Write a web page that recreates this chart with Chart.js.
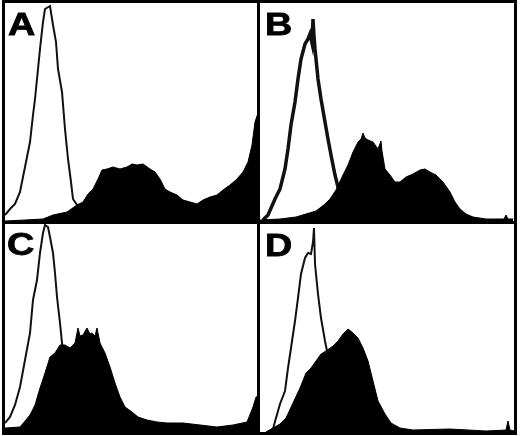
<!DOCTYPE html>
<html>
<head>
<meta charset="utf-8">
<script src="https://cdn.jsdelivr.net/npm/chart.js@4.4.0/dist/chart.umd.min.js"></script>
<style>
  html, body { margin: 0; padding: 0; background: #fff; }
  #wrap { position: relative; width: 520px; height: 436px; overflow: hidden; }
  .panel { position: absolute; box-sizing: border-box; border: 3px solid #000; background: #fff; }
  .panel canvas { display: block; }
  .lbl { position: absolute; font-family: "Liberation Sans", Arial, sans-serif; font-weight: bold;
         font-size: 32px; line-height: 1; color: #000; -webkit-text-stroke: 0.8px #000;
         transform: scaleX(1.18); transform-origin: left top; }
</style>
</head>
<body>
<div id="wrap">
  <div class="panel" style="left:2px;top:0px;width:259px;height:224px"><canvas id="ca"></canvas></div>
  <div class="panel" style="left:257px;top:0px;width:260px;height:224px"><canvas id="cb"></canvas></div>
  <div class="panel" style="left:2px;top:221px;width:259px;height:214px"><canvas id="cc"></canvas></div>
  <div class="panel" style="left:257px;top:221px;width:260px;height:214px"><canvas id="cd"></canvas></div>
  <div class="lbl" style="left:8px;top:8px">A</div>
  <div class="lbl" style="left:265px;top:8px">B</div>
  <div class="lbl" style="left:7px;top:228px">C</div>
  <div class="lbl" style="left:265px;top:229px">D</div>
</div>
<script>
// channels (x) and counts (y), one pair per trace

// A
const aCtrlX = [0, 5, 10, 15, 20, 25, 28, 30, 33, 35, 38, 40, 45, 48, 51, 53, 57, 60, 63, 66, 68, 72, 75, 78];
const aCtrlY = [6, 12, 17, 29, 54, 79, 106, 122, 152, 172, 199, 212, 215, 196, 179, 152, 129, 92, 62, 39, 22, 16, 6, 2];
const aTestX = [0, 20, 38, 48, 62, 72, 78, 83, 88, 93, 97, 102, 108, 115, 122, 127, 132, 138, 145, 150, 155, 160, 165, 172, 178, 185, 192, 198, 205, 212, 218, 225, 232, 238, 243, 247, 250, 253];
const aTestY = [0, 1, 2, 6, 9, 16, 19, 27, 32, 42, 51, 52, 54, 52, 54, 57, 56, 57, 52, 49, 42, 32, 29, 26, 21, 19, 17, 21, 24, 26, 31, 36, 42, 49, 59, 76, 99, 108];

// B
const bCtrlX = [3, 8, 15, 20, 25, 28, 31, 35, 38, 41, 45, 48, 50, 52, 53, 54, 55, 58, 61, 65, 68, 71, 75, 78, 82];
const bCtrlY = [1, 6, 22, 32, 52, 72, 96, 119, 142, 162, 177, 182, 187, 178, 202, 185, 172, 142, 122, 99, 82, 66, 46, 34, 20];
const bTestX = [0, 20, 36, 46, 56, 65, 70, 76, 83, 88, 93, 98, 101, 103, 105, 108, 113, 118, 121, 122, 125, 130, 135, 140, 146, 153, 160, 165, 170, 176, 183, 190, 195, 200, 206, 213, 226, 244, 246, 248, 253];
const bTestY = [1, 2, 4, 7, 10, 17, 22, 31, 46, 56, 69, 79, 82, 88, 83, 81, 79, 72, 80, 70, 52, 46, 39, 39, 44, 47, 51, 52, 49, 46, 39, 29, 19, 12, 7, 4, 2, 2, 6, 2, 2];

// C
const cCtrlX = [0, 5, 10, 15, 20, 25, 28, 32, 35, 38, 40, 43, 45, 48, 50, 52, 55, 57, 60];
const cCtrlY = [9, 15, 27, 45, 72, 99, 132, 152, 179, 199, 207, 205, 195, 179, 159, 135, 109, 89, 70];
const cTestX = [0, 15, 25, 30, 35, 40, 45, 50, 55, 60, 65, 70, 73, 75, 78, 82, 85, 87, 90, 92, 95, 100, 105, 110, 115, 120, 127, 133, 142, 152, 162, 178, 195, 212, 228, 242, 248, 251, 254];
const cTestY = [4, 5, 17, 27, 44, 59, 75, 79, 87, 87, 84, 89, 104, 96, 97, 104, 98, 99, 96, 104, 89, 79, 65, 49, 35, 25, 20, 15, 12, 10, 9, 9, 7, 5, 7, 10, 25, 35, 36];

// D
const dCtrlX = [13, 16, 20, 25, 28, 31, 35, 38, 41, 45, 48, 51, 53, 54, 55, 58, 61, 65, 67, 70];
const dCtrlY = [3, 14, 28, 41, 64, 84, 111, 134, 158, 174, 179, 178, 190, 204, 168, 138, 114, 91, 81, 70];
const dTestX = [6, 13, 20, 26, 33, 40, 46, 51, 56, 61, 66, 73, 78, 83, 88, 93, 98, 103, 108, 113, 118, 125, 131, 140, 153, 190, 226, 246, 248, 250, 254];
const dTestY = [0, 4, 8, 14, 29, 44, 59, 64, 71, 78, 81, 86, 91, 98, 103, 99, 94, 84, 71, 51, 31, 18, 9, 4, 2, 3, 1, 2, 11, 2, 1];

function pts(xs, ys) {
  return xs.map((x, i) => ({ x: x, y: ys[i] }));
}

function makePanel(canvasId, w, h, ctrlX, ctrlY, testX, testY, ctrlWidth) {
  const cv = document.getElementById(canvasId);
  cv.width = w;
  cv.height = h;
  cv.style.width = w + "px";
  cv.style.height = h + "px";
  return new Chart(cv.getContext("2d"), {
    type: "line",
    data: {
      datasets: [
        {
          data: pts(testX, testY),
          borderColor: "#000",
          backgroundColor: "#000",
          borderWidth: 1,
          fill: "origin",
          pointRadius: 0,
          tension: 0,
          order: 0
        },
        {
          data: pts(ctrlX, ctrlY),
          borderColor: "#111",
          borderWidth: ctrlWidth,
          fill: false,
          pointRadius: 0,
          tension: 0,
          order: 1
        }
      ]
    },
    options: {
      responsive: false,
      animation: false,
      events: [],
      layout: { padding: 0 },
      plugins: { legend: { display: false }, tooltip: { enabled: false }, title: { display: false } },
      scales: {
        x: { type: "linear", display: false, min: 0, max: w },
        y: { display: false, min: 0, max: h }
      }
    }
  });
}

makePanel("ca", 253, 218, aCtrlX, aCtrlY, aTestX, aTestY, 2);
makePanel("cb", 254, 218, bCtrlX, bCtrlY, bTestX, bTestY, 3.5);
makePanel("cc", 253, 208, cCtrlX, cCtrlY, cTestX, cTestY, 2);
makePanel("cd", 254, 208, dCtrlX, dCtrlY, dTestX, dTestY, 2);
</script>
</body>
</html>
